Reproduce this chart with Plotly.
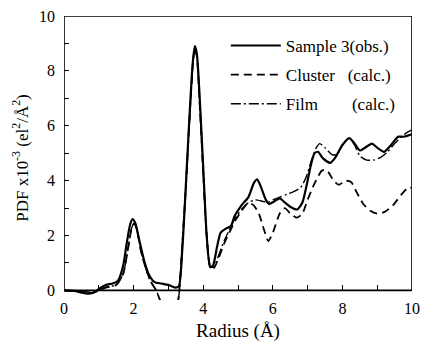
import plotly.graph_objects as go

# Pair distribution functions, radius in Å, PDF in units of 10^-3 el^2/Å^2
r_obs = [0.0, 0.3, 0.5, 0.7, 0.9, 1.0, 1.2, 1.4, 1.55, 1.7, 1.8, 1.9, 1.97, 2.05, 2.15, 2.3,
         2.45, 2.6, 2.8, 3.0, 3.2, 3.3, 3.4, 3.5, 3.6, 3.7, 3.76, 3.82, 3.9, 4.0, 4.1, 4.2,
         4.28, 4.4, 4.5, 4.65, 4.8, 4.9, 5.1, 5.3, 5.45, 5.55, 5.65, 5.8, 5.9, 6.05, 6.2,
         6.35, 6.5, 6.7, 6.85, 7.0, 7.1, 7.2, 7.3, 7.45, 7.65, 7.8, 8.0, 8.2, 8.35, 8.5,
         8.65, 8.85, 9.0, 9.2, 9.4, 9.6, 9.75, 9.9, 10.0]
pdf_obs = [0.0, -0.02, -0.08, -0.12, -0.05, 0.05, 0.2, 0.25, 0.35, 0.9, 1.7, 2.4, 2.6, 2.45,
           1.9, 1.1, 0.55, 0.3, 0.25, 0.2, 0.1, 0.15, 1.5, 3.8, 6.2, 8.3, 8.9, 8.6, 7.0, 4.5,
           2.0, 0.85, 0.9, 1.6, 2.1, 2.25, 2.35, 2.7, 3.1, 3.4, 3.9, 4.05, 3.8, 3.3, 3.15,
           3.25, 3.35, 3.2, 3.05, 2.95, 3.2, 4.0, 4.6, 5.0, 5.05, 4.8, 4.65, 4.85, 5.3, 5.55,
           5.35, 5.1, 5.2, 5.35, 5.2, 5.05, 5.3, 5.6, 5.6, 5.65, 5.7]

r_cluster = [0.0, 0.5, 0.8, 1.0, 1.2, 1.5, 1.7, 1.85, 1.95, 2.02, 2.1, 2.2, 2.35, 2.5, 2.65,
             2.8, 3.0, 3.2, 3.3, 3.4, 3.5, 3.6, 3.7, 3.76, 3.82, 3.9, 4.0, 4.1, 4.2, 4.3,
             4.45, 4.6, 4.75, 4.9, 5.1, 5.3, 5.45, 5.6, 5.75, 5.87, 6.0, 6.2, 6.35, 6.5,
             6.7, 6.85, 7.0, 7.2, 7.4, 7.5, 7.6, 7.75, 7.9, 8.1, 8.25, 8.4, 8.6, 8.8, 9.0,
             9.2, 9.45, 9.7, 9.85, 10.0]
pdf_cluster = [0.0, -0.05, -0.1, 0.0, 0.1, 0.2, 0.6, 1.6, 2.3, 2.45, 2.2, 1.5, 0.8, 0.3, 0.0,
               -0.5, -1.2, -0.8, -0.2, 1.7, 3.7, 6.1, 8.2, 8.85, 8.5, 6.8, 4.3, 2.0, 0.9,
               0.8, 1.2, 1.7, 2.1, 2.5, 2.9, 3.2, 3.1, 2.8, 2.2, 1.8, 2.1, 2.8, 3.0, 2.8,
               2.65, 2.8, 3.3, 3.9, 4.35, 4.4, 4.3, 4.0, 3.85, 4.0, 3.95, 3.6, 3.15, 2.9,
               2.8, 2.85, 3.1, 3.5, 3.7, 3.75]

r_film = [0.0, 0.5, 0.8, 1.0, 1.2, 1.5, 1.7, 1.85, 1.95, 2.02, 2.1, 2.2, 2.35, 2.5, 2.65,
          2.8, 3.0, 3.2, 3.3, 3.4, 3.5, 3.6, 3.7, 3.76, 3.82, 3.9, 4.0, 4.1, 4.2, 4.3, 4.45,
          4.6, 4.75, 4.9, 5.1, 5.3, 5.5, 5.7, 5.85, 6.0, 6.2, 6.4, 6.6, 6.8, 6.95, 7.1,
          7.25, 7.35, 7.5, 7.7, 7.85, 8.0, 8.2, 8.35, 8.5, 8.7, 8.9, 9.1, 9.3, 9.5, 9.7,
          9.85, 10.0]
pdf_film = [0.0, -0.03, -0.08, 0.0, 0.12, 0.2, 0.6, 1.6, 2.3, 2.45, 2.2, 1.5, 0.8, 0.3, 0.0,
            -0.5, -1.2, -0.8, -0.2, 1.7, 3.7, 6.1, 8.2, 8.85, 8.5, 6.8, 4.3, 2.0, 0.85, 0.85,
            1.3, 1.8, 2.2, 2.6, 2.95, 3.2, 3.3, 3.25, 3.2, 3.3, 3.4, 3.5, 3.6, 3.75, 4.1,
            4.7, 5.2, 5.35, 5.2, 4.95, 4.95, 5.3, 5.55, 5.3, 4.9, 4.75, 4.75, 4.85, 5.05,
            5.35, 5.6, 5.75, 5.85]

x_ticks = list(range(0, 11))
x_labels = [str(v) if v % 2 == 0 else "" for v in x_ticks]
y_ticks = list(range(0, 11))
y_labels = [str(v) if v % 2 == 0 else "" for v in y_ticks]

legend_names = ["Sample 3(obs.)",
                "Cluster\u00a0\u00a0\u00a0(calc.)",
                "Film\u00a0\u00a0\u00a0\u00a0\u00a0\u00a0\u00a0\u00a0(calc.)"]

Y_LOW = -0.35
SERIF = "Liberation Serif, serif"

fig = go.Figure()
fig.add_trace(go.Scatter(x=r_obs, y=pdf_obs, mode="lines", name=legend_names[0],
                         legendgroup="a",
                         line=dict(color="black", width=2.2, shape="spline", smoothing=0.6)))
fig.add_trace(go.Scatter(x=r_cluster, y=pdf_cluster, mode="lines", name=legend_names[1],
                         legendgroup="b",
                         line=dict(color="black", width=1.8, dash="8px,5px",
                                   shape="spline", smoothing=0.6)))
fig.add_trace(go.Scatter(x=r_film, y=pdf_film, mode="lines", name=legend_names[2],
                         legendgroup="c",
                         line=dict(color="black", width=1.4, dash="10px,3px,2px,3px",
                                   shape="spline", smoothing=0.6)))

# frame of the plot box from (0,0) to (10,10)
fig.add_shape(type="rect", xref="x", yref="y", x0=0, x1=10, y0=0, y1=10,
              line=dict(color="black", width=1.6), layer="above")

fig.update_layout(
    width=423, height=343,
    margin=dict(l=64, r=11, t=16, b=43),
    paper_bgcolor="white", plot_bgcolor="white",
    font=dict(family=SERIF, color="black", size=15),
    showlegend=True,
    legend=dict(x=0.465, y=0.958, xanchor="left", yanchor="top",
                bgcolor="rgba(0,0,0,0)", borderwidth=0,
                font=dict(family=SERIF, size=17, color="black"),
                tracegroupgap=4, itemwidth=50),
    xaxis=dict(range=[0, 10], tickvals=x_ticks, ticktext=x_labels,
               ticks="inside", ticklen=5, tickwidth=1.3, tickcolor="black",
               showgrid=False, zeroline=False, showline=False, automargin=False,
               anchor="free", position=(0 - Y_LOW) / (10 - Y_LOW),
               title=dict(text="Radius (Å)", font=dict(family=SERIF, size=19), standoff=7),
               tickfont=dict(family=SERIF, size=16), ticklabelstandoff=7),
    yaxis=dict(range=[Y_LOW, 10], tickvals=y_ticks, ticktext=y_labels,
               ticks="inside", ticklen=5, tickwidth=1.3, tickcolor="black",
               showgrid=False, zeroline=False, showline=False, automargin=False,
               title=dict(text="PDF x10<sup>-3</sup> (el<sup>2</sup>/Å<sup>2</sup>)",
                          font=dict(family=SERIF, size=17), standoff=6),
               tickfont=dict(family=SERIF, size=16), ticklabelstandoff=8),
)

fig.write_html("out.html")
